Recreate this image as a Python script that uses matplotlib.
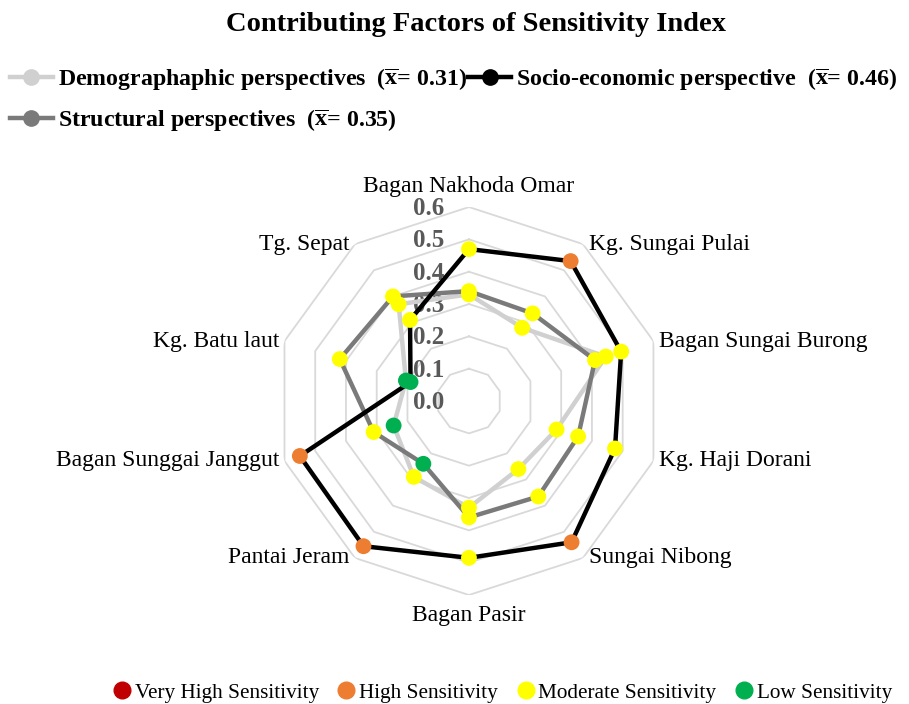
import numpy as np
import matplotlib
matplotlib.use("Agg")
import matplotlib.pyplot as plt
from matplotlib.lines import Line2D

plt.rcParams['font.family'] = ['Liberation Serif', 'DejaVu Serif']
plt.rcParams['mathtext.fontset'] = 'custom'
plt.rcParams['mathtext.rm'] = 'Liberation Serif'
plt.rcParams['mathtext.bf'] = 'Liberation Serif:bold'

# villages, clockwise from the top
categories = ["Bagan Nakhoda Omar", "Kg. Sungai Pulai", "Bagan Sungai Burong",
              "Kg. Haji Dorani", "Sungai Nibong", "Bagan Pasir", "Pantai Jeram",
              "Bagan Sunggai Janggut", "Kg. Batu laut", "Tg. Sepat"]

demographic = [0.33, 0.28, 0.445, 0.285, 0.26, 0.33, 0.29, 0.245, 0.205, 0.37]
structural = [0.34, 0.335, 0.41, 0.355, 0.365, 0.36, 0.24, 0.31, 0.42, 0.40]
socio = [0.47, 0.535, 0.495, 0.475, 0.54, 0.485, 0.555, 0.55, 0.19, 0.31]

# sensitivity class of every point
demographic_cls = ["M", "M", "M", "M", "M", "M", "M", "L", "L", "M"]
structural_cls = ["M", "M", "M", "M", "M", "M", "L", "M", "M", "M"]
socio_cls = ["M", "H", "M", "M", "H", "M", "H", "H", "L", "M"]

class_names = {"VH": "Very High Sensitivity", "H": "High Sensitivity",
               "M": "Moderate Sensitivity", "L": "Low Sensitivity"}
class_colors = {"VH": "#C00000", "H": "#ED7D31", "M": "#FFFF00", "L": "#00B050"}

series = [
    ("Demographaphic perspectives  ($\\mathbf{\\overline{x}}$= 0.31)", demographic, demographic_cls, "#D0D0D0"),
    ("Structural perspectives  ($\\mathbf{\\overline{x}}$= 0.35)", structural, structural_cls, "#7A7A7A"),
    ("Socio-economic perspective  ($\\mathbf{\\overline{x}}$= 0.46)", socio, socio_cls, "#000000"),
]

rings = [0.1, 0.2, 0.3, 0.4, 0.5, 0.6]
ring_labels = ["0.0", "0.1", "0.2", "0.3", "0.4", "0.5", "0.6"]

n = len(categories)
theta = np.arange(n) * 2 * np.pi / n
theta_c = np.append(theta, theta[0])

fig = plt.figure(figsize=(9.09, 7.04), dpi=100)
ax = fig.add_axes([0.3025, 0.1548, 0.4268, 0.5511], projection='polar')
ax.set_theta_zero_location('N')
ax.set_theta_direction(-1)
ax.set_ylim(0, 0.6)
ax.grid(False)
ax.spines['polar'].set_visible(False)
ax.set_xticks([])
ax.set_yticks([])

# decagon gridlines
for r in rings:
    ax.plot(theta_c, [r] * (n + 1), color="#D9D9D9", lw=1.3, zorder=1)

for i, lab in enumerate(ring_labels):
    ax.annotate(lab, xy=(0, i * 0.1), xytext=(-18, -1), textcoords='offset points',
                ha='right', va='center', fontsize=18, fontweight='bold', color="#595959",
                zorder=2)

handles = []
for name, vals, cls, col in series:
    v = np.append(vals, vals[0])
    ax.plot(theta_c, v, color=col, lw=3.2, zorder=3)
    ax.scatter(theta, vals, c=[class_colors[c] for c in cls], s=130, zorder=4,
               linewidths=0)
    handles.append(Line2D([], [], color=col, lw=3.2, marker='o', markersize=11,
                          markerfacecolor=col, markeredgecolor=col, label=name))

# category labels
for ang, lab in zip(theta, categories):
    dx, dy = np.sin(ang), np.cos(ang)
    if abs(dx) < 0.1:
        ha = 'center'
        va = 'bottom' if dy > 0 else 'top'
        off = (0, 7 if dy > 0 else -7)
    else:
        ha = 'left' if dx > 0 else 'right'
        va = 'center'
        off = (4 if dx > 0 else -4, 0)
    ax.annotate(lab, xy=(ang, 0.6), xytext=off, textcoords='offset points',
                ha=ha, va=va, fontsize=17, annotation_clip=False)

fig.text(0.524, 0.965, "Contributing Factors of Sensitivity Index", ha='center', va='center',
         fontsize=20.5, fontweight='bold')

top_leg = fig.legend(handles=handles, loc='upper left', bbox_to_anchor=(0.011, 0.906),
                     ncol=2, frameon=False, prop={'weight': 'bold', 'size': 17.2},
                     handlelength=1.8, handletextpad=0.2, columnspacing=0.05,
                     labelspacing=0.62, borderaxespad=0, borderpad=0)

cls_handles = [Line2D([], [], lw=0, marker='o', markersize=12, markerfacecolor=class_colors[k],
                      markeredgecolor=class_colors[k], label=class_names[k])
               for k in ["VH", "H", "M", "L"]]
fig.legend(handles=cls_handles, loc='center', bbox_to_anchor=(0.553, 0.016), ncol=4,
           frameon=False, fontsize=15.3, handlelength=0.8, handletextpad=0.2,
           columnspacing=0.9, borderaxespad=0)

fig.savefig("out.png", dpi=100)
